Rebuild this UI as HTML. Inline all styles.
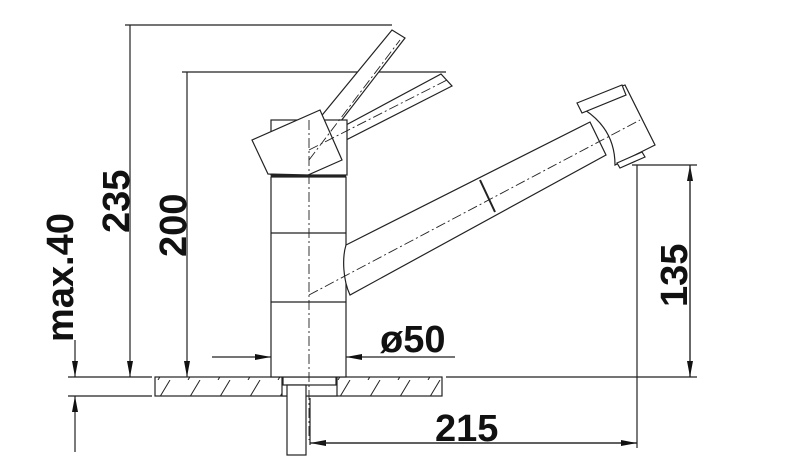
<!DOCTYPE html><html><head><style>body{margin:0;background:#fff}svg{display:block}text{font-family:"Liberation Sans",sans-serif;font-weight:bold;font-size:38px;fill:#111}</style></head><body>
<svg width="800" height="469" viewBox="0 0 800 469" xmlns="http://www.w3.org/2000/svg">
<defs><marker id="a" markerWidth="16" markerHeight="8" refX="16" refY="4" orient="auto" markerUnits="userSpaceOnUse"><path d="M0,1 L16,4 L0,7z" fill="#111"/></marker>
<pattern id="h" width="30" height="20" patternUnits="userSpaceOnUse"><path d="M8,20 L20,0" stroke="#222" stroke-width="1"/></pattern></defs>
<g stroke="#222" stroke-width="1.2" fill="none">
<line x1="125" y1="25" x2="392" y2="25"/><line x1="182" y1="72" x2="446" y2="72"/>
<line x1="68" y1="377" x2="152" y2="377"/><line x1="68" y1="396" x2="152" y2="396"/>
<line x1="446" y1="377" x2="697" y2="377"/><line x1="632" y1="165" x2="697" y2="165"/>
<line x1="637" y1="165" x2="637" y2="448"/>
<line x1="130" y1="25" x2="130" y2="377" marker-end="url(#a)"/>
<line x1="187" y1="72" x2="187" y2="377" marker-end="url(#a)"/>
<line x1="75" y1="340" x2="75" y2="377" marker-end="url(#a)"/>
<line x1="75" y1="452" x2="75" y2="396" marker-end="url(#a)"/>
<line x1="690" y1="377" x2="690" y2="165" marker-end="url(#a)"/>
<line x1="690" y1="165" x2="690" y2="377" marker-end="url(#a)"/>
<line x1="637" y1="443" x2="310" y2="443" marker-end="url(#a)"/>
<line x1="310" y1="443" x2="637" y2="443" marker-end="url(#a)"/>
<line x1="212" y1="357" x2="271" y2="357" marker-end="url(#a)"/>
<line x1="455" y1="357" x2="346" y2="357" marker-end="url(#a)"/>
<line x1="310" y1="398" x2="310" y2="445"/>
<rect x="155" y="377" width="287" height="19" fill="url(#h)"/>
<rect x="282" y="377" width="55" height="19" fill="#fff"/>
<rect x="283" y="377" width="53" height="8" fill="#fff"/>
<rect x="287" y="385" width="19" height="70" fill="#fff"/>
<rect x="271" y="177" width="75" height="200" fill="#fff"/>
<line x1="271" y1="233" x2="346" y2="233"/><line x1="271" y1="302" x2="346" y2="302"/>
<path d="M346,245 L590,122 L606,155 L350,295 C343,280 342,258 346,245z" fill="#fff"/>
<path d="M480,180 L495,212" stroke-width="2"/>
<path d="M585,100 L625,85 L655,145 L615,165 Q615,130 585,110z" fill="#fff"/>
<path d="M577,103 L622,85 L626,95 L582,113z" fill="#fff"/>
<path d="M617,163 L642,152 L645,157 L620,168z" fill="#fff"/>
<path d="M314,125 L392,30 L405,38 L334,130z" fill="#fff"/>
<path d="M346,125 L441,74 L452,86 L346,140z" fill="#fff"/>
<rect x="271" y="120" width="76" height="55" fill="#fff"/>
<path d="M252,140 L320,110 L342,160 L308,175 L268,174z" fill="#fff"/>
<line x1="271" y1="176" x2="346" y2="176" stroke-width="2"/>
<g stroke-dasharray="10,3,2,3" stroke-width="0.9">
<line x1="309" y1="120" x2="309" y2="440"/>
<line x1="309" y1="160" x2="400" y2="40"/>
<line x1="309" y1="150" x2="447" y2="80"/>
<line x1="309" y1="295" x2="640" y2="120"/>
</g></g>
<text transform="translate(129,233) rotate(-90)">235</text>
<text transform="translate(186,257) rotate(-90)">200</text>
<text transform="translate(73,342) rotate(-90)">max.40</text>
<text transform="translate(687,307) rotate(-90)">135</text>
<text x="435" y="441">215</text>
<text x="380" y="352">ø50</text>
</svg></body></html>
